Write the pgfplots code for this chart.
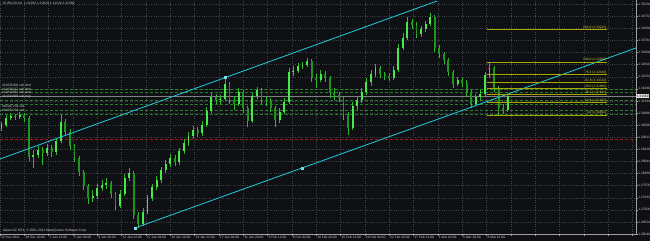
\documentclass[border=0pt]{standalone}
\usepackage{fontspec}
\setmainfont{Liberation Sans}
\usepackage{pgfplots}
\pgfplotsset{compat=1.18}
\usepackage{pgfplotstable}
\definecolor{bg}{HTML}{0E1014}
\definecolor{gridc}{HTML}{3E444A}
\definecolor{axisgray}{HTML}{A0A0A0}
\definecolor{textc}{HTML}{C8C8C8}
\definecolor{wick}{HTML}{2DB82D}
\definecolor{bull}{HTML}{48E848}
\definecolor{bear}{HTML}{1E961E}
\definecolor{chan}{HTML}{22C4D6}
\definecolor{fibl}{HTML}{A8A800}
\definecolor{fibt}{HTML}{C8C840}
\definecolor{ordg}{HTML}{2A7E2A}
\definecolor{redl}{HTML}{A01818}
\newcommand{\mtfont}{\fontsize{3.3}{3.8}\selectfont}

\pgfplotstableread{
b o h l c
0 1.3028 1.3052 1.3016 1.3040
3 1.3040 1.3080 1.3032 1.3068
6 1.3068 1.3088 1.3060 1.3076
9 1.3076 1.3084 1.3060 1.3072
12 1.3072 1.3092 1.3064 1.3080
15 1.3080 1.3088 1.3052 1.3068
18 1.3068 1.3076 1.2896 1.2912
21 1.2912 1.2940 1.2868 1.2920
24 1.2920 1.2956 1.2908 1.2940
27 1.2940 1.2952 1.2880 1.2928
30 1.2928 1.2964 1.2916 1.2948
33 1.2948 1.2960 1.2912 1.2932
36 1.2932 1.2988 1.2920 1.2976
39 1.2976 1.3080 1.2968 1.3052
42 1.3052 1.3064 1.2996 1.3012
45 1.3012 1.3024 1.2940 1.2956
48 1.2956 1.2964 1.2892 1.2908
51 1.2908 1.2916 1.2836 1.2852
54 1.2852 1.2860 1.2780 1.2796
57 1.2796 1.2804 1.2724 1.2748
60 1.2748 1.2780 1.2732 1.2756
63 1.2756 1.2804 1.2744 1.2788
66 1.2788 1.2820 1.2776 1.2800
69 1.2800 1.2828 1.2784 1.2808
72 1.2808 1.2816 1.2748 1.2764
75 1.2764 1.2772 1.2700 1.2716
78 1.2716 1.2780 1.2708 1.2764
81 1.2764 1.2844 1.2756 1.2828
84 1.2828 1.2868 1.2816 1.2848
87 1.2848 1.2856 1.2664 1.2680
90 1.2680 1.2692 1.2628 1.2644
93 1.2644 1.2708 1.2636 1.2692
96 1.2692 1.2760 1.2684 1.2748
99 1.2748 1.2804 1.2736 1.2792
102 1.2792 1.2836 1.2780 1.2820
105 1.2820 1.2872 1.2808 1.2860
108 1.2860 1.2900 1.2848 1.2884
111 1.2884 1.2924 1.2872 1.2908
114 1.2908 1.2920 1.2876 1.2892
117 1.2892 1.2948 1.2880 1.2936
120 1.2936 1.2984 1.2924 1.2968
123 1.2968 1.3012 1.2956 1.2996
126 1.2996 1.3036 1.2984 1.3020
129 1.3020 1.3032 1.2992 1.3008
132 1.3008 1.3056 1.2996 1.3040
135 1.3040 1.3112 1.3032 1.3096
138 1.3096 1.3168 1.3088 1.3152
141 1.3152 1.3164 1.3124 1.3140
144 1.3140 1.3160 1.3124 1.3144
147 1.3144 1.3232 1.3136 1.3204
150 1.3204 1.3212 1.3124 1.3140
153 1.3140 1.3156 1.3100 1.3124
156 1.3124 1.3188 1.3116 1.3172
159 1.3172 1.3180 1.3088 1.3108
162 1.3108 1.3116 1.3032 1.3056
165 1.3056 1.3168 1.3048 1.3156
168 1.3156 1.3192 1.3144 1.3180
171 1.3180 1.3188 1.3124 1.3140
174 1.3140 1.3156 1.3116 1.3136
177 1.3136 1.3148 1.3092 1.3108
180 1.3108 1.3116 1.3032 1.3060
183 1.3060 1.3108 1.3048 1.3092
186 1.3092 1.3148 1.3084 1.3132
189 1.3132 1.3268 1.3124 1.3252
192 1.3252 1.3276 1.3236 1.3256
195 1.3256 1.3288 1.3248 1.3276
198 1.3276 1.3292 1.3264 1.3280
201 1.3280 1.3308 1.3272 1.3296
204 1.3296 1.3304 1.3212 1.3228
207 1.3228 1.3244 1.3188 1.3220
210 1.3220 1.3260 1.3212 1.3244
213 1.3244 1.3256 1.3212 1.3228
216 1.3228 1.3236 1.3148 1.3168
219 1.3168 1.3188 1.3140 1.3160
222 1.3160 1.3172 1.3132 1.3148
225 1.3148 1.3156 1.3060 1.3080
228 1.3080 1.3092 1.3000 1.3028
231 1.3028 1.3132 1.3020 1.3116
234 1.3116 1.3156 1.3100 1.3140
237 1.3140 1.3188 1.3128 1.3172
240 1.3172 1.3228 1.3160 1.3212
243 1.3212 1.3260 1.3196 1.3244
246 1.3244 1.3284 1.3232 1.3268
249 1.3268 1.3276 1.3228 1.3244
252 1.3244 1.3252 1.3220 1.3236
255 1.3236 1.3248 1.3216 1.3228
258 1.3228 1.3276 1.3220 1.3260
261 1.3260 1.3364 1.3252 1.3348
264 1.3348 1.3408 1.3340 1.3388
267 1.3388 1.3472 1.3380 1.3452
270 1.3452 1.3464 1.3424 1.3440
273 1.3440 1.3452 1.3388 1.3404
276 1.3404 1.3436 1.3392 1.3424
279 1.3424 1.3456 1.3412 1.3444
282 1.3444 1.3488 1.3436 1.3472
285 1.3472 1.3480 1.3332 1.3348
288 1.3348 1.3360 1.3308 1.3324
291 1.3324 1.3332 1.3284 1.3300
294 1.3300 1.3308 1.3236 1.3252
297 1.3252 1.3260 1.3188 1.3204
300 1.3204 1.3232 1.3196 1.3220
303 1.3220 1.3228 1.3192 1.3208
306 1.3208 1.3220 1.3156 1.3172
309 1.3172 1.3180 1.3108 1.3124
312 1.3124 1.3164 1.3116 1.3152
315 1.3152 1.3180 1.3140 1.3164
318 1.3164 1.3252 1.3156 1.3240
321 1.3240 1.3292 1.3228 1.3268
324 1.3268 1.3276 1.3172 1.3188
327 1.3188 1.3196 1.3080 1.3108
330 1.3108 1.3124 1.3084 1.3100
333 1.3100 1.3158 1.3092 1.3156
}\candles

\begin{document}
\begin{tikzpicture}
\fill[bg] (0,0) rectangle (650pt,241pt);
\path[use as bounding box] (0,0) rectangle (650pt,241pt);
\begin{axis}[
  at={(0pt,7pt)}, anchor=south west,
  scale only axis, width=636pt, height=234pt,
  xmin=-1, xmax=417.4, ymin=1.2604, ymax=1.3540,
  axis x line*=bottom, axis y line*=right,
  axis line style={draw=axisgray, line width=0.5pt, -},
  tick style={draw=axisgray, line width=0.3pt},
  tick align=outside, major tick length=1.5pt,
  grid=major,
  major grid style={draw=gridc, line width=0.35pt, dash pattern=on 0.6pt off 1.8pt},
  xtick={-1,15,31,47,63,79,95,111,127,143,159,175,191,207,223,239,255,271,287,303,319,335,351,367,383,399,415},
  xticklabels={22 Dec 2011,28 Dec 20:00,2 Jan 12:00,5 Jan 04:00,9 Jan 20:00,12 Jan 12:00,17 Jan 04:00,19 Jan 20:00,24 Jan 12:00,27 Jan 04:00,31 Jan 20:00,3 Feb 12:00,8 Feb 04:00,10 Feb 20:00,15 Feb 12:00,20 Feb 04:00,22 Feb 20:00,27 Feb 12:00,1 Mar 04:00,5 Mar 20:00,8 Mar 12:00,,,,,,},
  ytick={1.2604,1.26524,1.27008,1.27492,1.27976,1.2846,1.28944,1.29428,1.29912,1.30396,1.3088,1.31364,1.31848,1.32332,1.32816,1.333,1.33784,1.34268,1.34752,1.35236},
  /pgf/number format/assume math mode=true,
  tick label style={font=\mtfont, text=textc, inner sep=0.6pt},
  xticklabel style={anchor=north west, xshift=0.3pt},
  yticklabel style={anchor=west, /pgf/number format/fixed, /pgf/number format/fixed zerofill, /pgf/number format/precision=5},
]
% order lines
\addplot[ordg, line width=0.4pt, dash pattern=on 3pt off 2pt, forget plot] coordinates {(-1,1.3184) (417.4,1.3184)};
\addplot[ordg, line width=0.4pt, dash pattern=on 3pt off 2pt, forget plot] coordinates {(-1,1.3172) (417.4,1.3172)};
\addplot[ordg, line width=0.4pt, dash pattern=on 3pt off 2pt, forget plot] coordinates {(-1,1.3140) (417.4,1.3140)};
\addplot[ordg, line width=0.4pt, dash pattern=on 3pt off 2pt, forget plot] coordinates {(-1,1.3124) (417.4,1.3124)};
\addplot[ordg, line width=0.4pt, dash pattern=on 3pt off 2pt, forget plot] coordinates {(-1,1.3100) (417.4,1.3100)};
\addplot[ordg, line width=0.4pt, dash pattern=on 3pt off 2pt, forget plot] coordinates {(-1,1.3084) (417.4,1.3084)};
\addplot[redl, line width=0.45pt, dash pattern=on 3pt off 2pt, forget plot] coordinates {(-1,1.2984) (417.4,1.2984)};
\addplot[gray, line width=0.4pt, forget plot] coordinates {(-1,1.3156) (417.4,1.3156)};
% candles
\addplot[draw=none, mark=none, forget plot,
  error bars/.cd, y dir=plus, y explicit, error mark=none,
  error bar style={draw=wick, line width=0.6pt}]
  table[x=b, y=l, y error expr=\thisrow{h}-\thisrow{l}] {\candles};
\addplot[draw=none, mark=none, forget plot,
  error bars/.cd, y dir=plus, y explicit, error mark=none,
  error bar style={draw=bull, line width=1.9pt, line cap=butt}]
  table[x=b, y=o, y error expr={max(\thisrow{c}-\thisrow{o},0)}] {\candles};
\addplot[draw=none, mark=none, forget plot,
  error bars/.cd, y dir=plus, y explicit, error mark=none,
  error bar style={draw=bear, line width=1.9pt, line cap=butt}]
  table[x=b, y=c, y error expr={max(\thisrow{o}-\thisrow{c},0)}] {\candles};
% channel
\addplot[chan, line width=0.85pt, forget plot] coordinates {(-1,1.2904) (286.5,1.3536)};
\addplot[chan, line width=0.85pt, forget plot] coordinates {(87.8,1.2628) (417.4,1.3348)};
\addplot[chan!60!white, only marks, mark=square*, mark size=0.9pt, forget plot] coordinates {(87.8,1.2628) (197.7,1.2868) (147,1.3232)};
% fibonacci
\addplot[redl, line width=0.4pt, dash pattern=on 1pt off 1pt, forget plot] coordinates {(319.4,1.3292) (327.5,1.3080)};
\addplot[draw=fibl, line width=0.7pt, forget plot] coordinates {(319.4,1.3421) (398.3,1.3421)};
\addplot[fibl, line width=0.6pt, forget plot] coordinates {(319.4,1.3292) (398.3,1.3292)};
\addplot[fibl, line width=0.6pt, forget plot] coordinates {(319.4,1.3242) (398.3,1.3242)};
\addplot[fibl, line width=0.6pt, forget plot] coordinates {(319.4,1.3211) (398.3,1.3211)};
\addplot[fibl, line width=0.6pt, forget plot] coordinates {(319.4,1.3186) (398.3,1.3186)};
\addplot[fibl, line width=0.6pt, forget plot] coordinates {(319.4,1.3161) (398.3,1.3161)};
\addplot[fibl, line width=0.6pt, forget plot] coordinates {(319.4,1.3130) (398.3,1.3130)};
\addplot[fibl, line width=0.6pt, forget plot] coordinates {(319.4,1.3080) (398.3,1.3080)};
\node[anchor=south east, text=fibt, font=\mtfont, inner sep=0.3pt] at (axis cs:398.3,1.3421) {161.8 (1.34210)};
\node[anchor=south east, text=fibt, font=\mtfont, inner sep=0.3pt] at (axis cs:398.3,1.3292) {100.0 (1.32920)};
\node[anchor=south east, text=fibt, font=\mtfont, inner sep=0.3pt] at (axis cs:398.3,1.3242) {76.4 (1.32420)};
\node[anchor=south east, text=fibt, font=\mtfont, inner sep=0.3pt] at (axis cs:398.3,1.3211) {61.8 (1.32110)};
\node[anchor=south east, text=fibt, font=\mtfont, inner sep=0.3pt] at (axis cs:398.3,1.3186) {50.0 (1.31860)};
\node[anchor=south east, text=fibt, font=\mtfont, inner sep=0.3pt] at (axis cs:398.3,1.3161) {38.2 (1.31610)};
\node[anchor=south east, text=fibt, font=\mtfont, inner sep=0.3pt] at (axis cs:398.3,1.3130) {23.6 (1.31300)};
\node[anchor=south east, text=fibt, font=\mtfont, inner sep=0.3pt] at (axis cs:398.3,1.3080) {0.0 (1.30800)};
% order labels
\node[anchor=south west, text=textc, font=\mtfont, inner sep=0.3pt] at (axis cs:0,1.3190) {\#11035400 sell limit};
\node[anchor=south west, text=textc, font=\mtfont, inner sep=0.3pt] at (axis cs:0,1.3175) {\#11035127 sell limit};
\node[anchor=south west, text=textc, font=\mtfont, inner sep=0.3pt] at (axis cs:0,1.3160) {\#11034897 sell stop};
\node[anchor=south west, text=textc, font=\mtfont, inner sep=0.3pt] at (axis cs:0,1.3144) {\#11034896 sell stop};
\node[anchor=south west, text=textc, font=\mtfont, inner sep=0.3pt] at (axis cs:0,1.3106) {\#10997234 sell};
\node[anchor=south west, text=textc, font=\mtfont, inner sep=0.3pt] at (axis cs:0,1.3090) {\#10997233 sell};
\coordinate (pricebox) at (axis cs:417.4,1.3156);
\end{axis}
\node[anchor=west, fill=white!90!black, text=black, font=\mtfont, inner sep=0.5pt] at (pricebox) {1.31560};
\node[anchor=north west, text=textc, font=\mtfont, inner sep=0pt] at (3pt,239pt) {EURUSD,H4\ \ 1.31282 1.31620 1.31220 1.31560};
\node[anchor=west, text=textc, font=\mtfont, inner sep=0pt] at (3pt,10pt) {Alpari NZ MT4, © 2001-2011 MetaQuotes Software Corp.};
\end{tikzpicture}
\end{document}
